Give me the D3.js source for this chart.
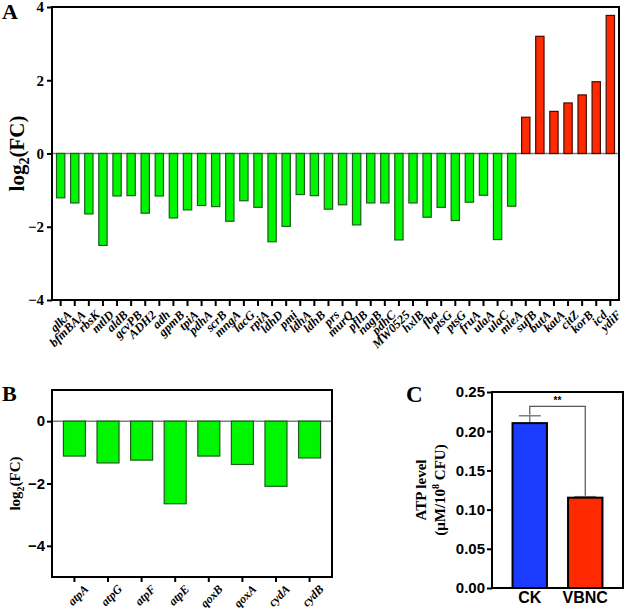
<!DOCTYPE html>
<html><head><meta charset="utf-8">
<script src="https://cdn.jsdelivr.net/npm/d3@7"></script>
<style>body{margin:0;background:#fff}svg{display:block}</style>
</head><body>
<svg id="c" width="625" height="610"></svg>
<script>
// Panel A data
const genesA = ["glkA","bfmBAA","rbsK","mtlD","aldB","gcvPB","ADH2","adh","gpmB","tpiA","pdhA","scrB","mngA","lacG","rpiA","ldhD","pmi","ldhA","ldhB","prs","murQ","pflB","nagB","pdhC","MW0525","hxlB","fba","ptsG","ptsG","fruA","ulaA","ulaC","mleA","sufB","butA","katA","citZ","korB","icd","ydiF"];
const valuesA = [-1.21,-1.35,-1.65,-2.51,-1.16,-1.15,-1.63,-1.16,-1.76,-1.54,-1.42,-1.45,-1.85,-1.29,-1.47,-2.41,-1.99,-1.12,-1.15,-1.52,-1.4,-1.95,-1.35,-1.35,-2.36,-1.35,-1.74,-1.47,-1.83,-1.33,-1.14,-2.35,-1.44,0.99,3.2,1.15,1.38,1.6,1.96,3.77];
const ticksA = [-4,-2,0,2,4];
// Panel B data
const genesB = ["atpA","atpG","atpF","atpE","qoxB","qoxA","cydA","cydB"];
const valuesB = [-1.12,-1.34,-1.25,-2.65,-1.12,-1.39,-2.09,-1.18];
const ticksB = [-4,-2,0];
// Panel C data
const groupsC = ["CK","VBNC"];
const meansC = [0.2103,0.1152];
const errorsC = [0.0094,0.0013];
const ticksC = [0,0.05,0.10,0.15,0.20,0.25];

const svg = d3.select("#c");
const serif = "'Liberation Serif','Times New Roman',serif";
const sans = "'Liberation Sans',Arial,sans-serif";
const GREEN="#00f500", GREEN_S="#1d5e1d", RED="#ff2a00", RED_S="#4a0c00";

// ---------- Panel A ----------
{
  const L=52,R=619,T=7,B=300;
  const x=d3.scaleBand().domain(d3.range(genesA.length)).range([L,R]).paddingInner(0.41).paddingOuter(0.32);
  const y=d3.scaleLinear().domain([-4,4]).range([B,T]);
  const g=svg.append("g");
  g.append("line").attr("x1",L).attr("x2",R).attr("y1",y(0)).attr("y2",y(0)).attr("stroke","#7d7d7d").attr("stroke-width",1.5);
  g.selectAll("rect.bar").data(valuesA).join("rect")
    .attr("x",(d,i)=>x(i)).attr("width",x.bandwidth())
    .attr("y",d=>y(Math.max(0,d))).attr("height",d=>Math.abs(y(d)-y(0)))
    .attr("fill",d=>d<0?GREEN:RED).attr("stroke",d=>d<0?GREEN_S:RED_S).attr("stroke-width",1.2);
  g.append("rect").attr("x",L).attr("y",T).attr("width",R-L).attr("height",B-T).attr("fill","none").attr("stroke","#000").attr("stroke-width",2);
  const ya=g.append("g").attr("transform",`translate(${L},0)`).call(d3.axisLeft(y).tickValues(ticksA).tickSize(5).tickPadding(3).tickFormat(d3.format("d")));
  ya.select(".domain").remove();
  ya.selectAll("line").attr("stroke-width",2);
  ya.selectAll("text").attr("font-family",serif).attr("font-weight","bold").attr("font-size",15);
  const xa=g.append("g").attr("transform",`translate(0,${B})`).call(d3.axisBottom(x).tickSize(6).tickFormat(i=>genesA[i]));
  xa.select(".domain").remove();
  xa.selectAll("line").attr("stroke-width",2);
  xa.selectAll("text").attr("font-family",serif).attr("font-weight","bold").attr("font-style","italic").attr("font-size",12.5)
    .attr("text-anchor","end").attr("transform","translate(0,4) rotate(-45)").attr("dy","0.6em").attr("dx","0");
  svg.append("text").attr("transform",`translate(24,${y(0)}) rotate(-90)`).attr("text-anchor","middle")
    .attr("font-family",serif).attr("font-weight","bold").attr("font-size",21)
    .call(t=>{t.append("tspan").text("log");t.append("tspan").attr("font-size",14).attr("dy",5).text("2");t.append("tspan").attr("dy",-5).text("(FC)");});
  svg.append("text").attr("x",2).attr("y",19).attr("font-family",serif).attr("font-weight","bold").attr("font-size",22).text("A");
}

// ---------- Panel B ----------
{
  const L=52,R=332,T=390,B=577;
  const x=d3.scaleBand().domain(d3.range(genesB.length)).range([L,R]).paddingInner(0.345).paddingOuter(0.34);
  const y=d3.scaleLinear().domain([-5,1]).range([B,T]);
  const g=svg.append("g");
  g.append("line").attr("x1",L).attr("x2",R).attr("y1",y(0)).attr("y2",y(0)).attr("stroke","#7d7d7d").attr("stroke-width",1.5);
  g.selectAll("rect.bar").data(valuesB).join("rect")
    .attr("x",(d,i)=>x(i)).attr("width",x.bandwidth())
    .attr("y",d=>y(Math.max(0,d))).attr("height",d=>Math.abs(y(d)-y(0)))
    .attr("fill",GREEN).attr("stroke",GREEN_S).attr("stroke-width",1.2);
  g.append("rect").attr("x",L).attr("y",T).attr("width",R-L).attr("height",B-T).attr("fill","none").attr("stroke","#000").attr("stroke-width",2);
  const ya=g.append("g").attr("transform",`translate(${L},0)`).call(d3.axisLeft(y).tickValues(ticksB).tickSize(5).tickPadding(2).tickFormat(d3.format("d")));
  ya.select(".domain").remove();
  ya.selectAll("line").attr("stroke-width",2);
  ya.selectAll("text").attr("font-family",sans).attr("font-weight","bold").attr("font-size",15);
  const xa=g.append("g").attr("transform",`translate(0,${B})`).call(d3.axisBottom(x).tickSize(5).tickFormat(i=>genesB[i]));
  xa.select(".domain").remove();
  xa.selectAll("line").attr("stroke-width",2);
  xa.selectAll("text").attr("font-family",serif).attr("font-weight","bold").attr("font-style","italic").attr("font-size",12)
    .attr("text-anchor","end").attr("transform","translate(4,2) rotate(-45)").attr("dy","0.6em").attr("dx","0");
  svg.append("text").attr("transform",`translate(20,${(T+B)/2}) rotate(-90)`).attr("text-anchor","middle")
    .attr("font-family",serif).attr("font-weight","bold").attr("font-size",15)
    .call(t=>{t.append("tspan").text("log");t.append("tspan").attr("font-size",10).attr("dy",4).text("2");t.append("tspan").attr("dy",-4).text("(FC)");});
  svg.append("text").attr("x",2).attr("y",401).attr("font-family",serif).attr("font-weight","bold").attr("font-size",22).text("B");
}

// ---------- Panel C ----------
{
  const L=492,R=623,T=392,B=588;
  const x=d3.scaleBand().domain(groupsC).range([L,R]).paddingInner(0.38).paddingOuter(0.37);
  const y=d3.scaleLinear().domain([0,0.25]).range([B,T]);
  const g=svg.append("g");
  groupsC.forEach((k,i)=>{
    const cx=x(k)+x.bandwidth()/2;
    g.append("line").attr("x1",cx).attr("x2",cx).attr("y1",y(meansC[i])).attr("y2",y(meansC[i]+errorsC[i])).attr("stroke","#808080").attr("stroke-width",1.5);
    g.append("line").attr("x1",cx-11).attr("x2",cx+11).attr("y1",y(meansC[i]+errorsC[i])).attr("y2",y(meansC[i]+errorsC[i])).attr("stroke","#808080").attr("stroke-width",1.5);
  });
  g.selectAll("rect.bar").data(meansC).join("rect")
    .attr("x",(d,i)=>x(groupsC[i])).attr("width",x.bandwidth())
    .attr("y",d=>y(d)).attr("height",d=>y(0)-y(d))
    .attr("fill",(d,i)=>i===0?"#1a3cff":"#ff2a00").attr("stroke","#000").attr("stroke-width",2);
  const c0=x("CK")+x.bandwidth()/2, c1=x("VBNC")+x.bandwidth()/2, by=y(0.2317);
  g.append("path").attr("d",`M${c0},${y(meansC[0]+errorsC[0])-1}V${by}H${c1}V${y(meansC[1]+errorsC[1])-1}`)
    .attr("fill","none").attr("stroke","#555").attr("stroke-width",1.2);
  g.append("text").attr("x",(c0+c1)/2).attr("y",by-2).attr("text-anchor","middle").attr("font-family",sans).attr("font-weight","bold").attr("font-size",10).text("**");
  g.append("rect").attr("x",L).attr("y",T).attr("width",R-L).attr("height",B-T).attr("fill","none").attr("stroke","#000").attr("stroke-width",2);
  const ya=g.append("g").attr("transform",`translate(${L},0)`).call(d3.axisLeft(y).tickValues(ticksC).tickSize(5).tickPadding(2).tickFormat(d3.format(".2f")));
  ya.select(".domain").remove();
  ya.selectAll("line").attr("stroke-width",2);
  ya.selectAll("text").attr("font-family",sans).attr("font-weight","bold").attr("font-size",15);
  const xa=g.append("g").attr("transform",`translate(0,${B})`).call(d3.axisBottom(x).tickSize(0).tickPadding(4));
  xa.select(".domain").remove();
  xa.selectAll("text").attr("font-family",sans).attr("font-weight","bold").attr("font-size",16);
  const yt=svg.append("text").attr("transform",`translate(426,${(T+B)/2}) rotate(-90)`).attr("text-anchor","middle")
    .attr("font-family",serif).attr("font-weight","bold").attr("font-size",15);
  yt.append("tspan").attr("x",0).attr("dy",0).text("ATP level");
  const l2=yt.append("tspan").attr("x",0).attr("dy",19);
  l2.append("tspan").text("(μM/10");
  l2.append("tspan").attr("font-size",10).attr("dy",-6).text("8");
  l2.append("tspan").attr("dy",6).text(" CFU)");
  svg.append("text").attr("x",406).attr("y",402).attr("font-family",serif).attr("font-weight","bold").attr("font-size",23).text("C");
}
</script>
</body></html>
